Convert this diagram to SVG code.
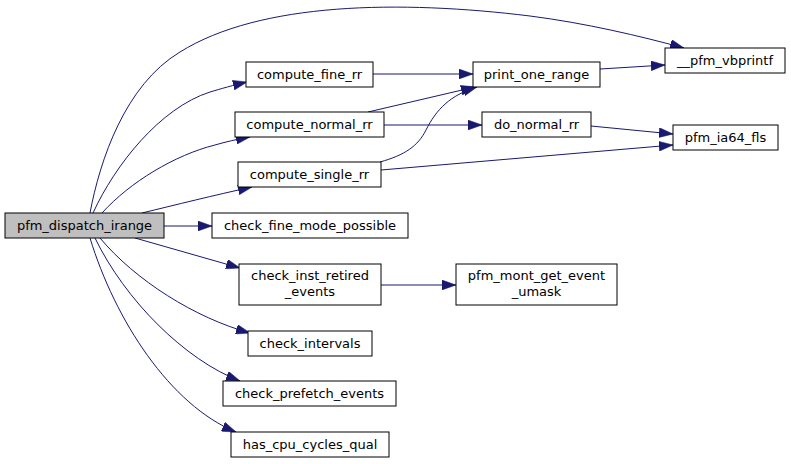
<svg xmlns="http://www.w3.org/2000/svg" width="791" height="464" viewBox="0 0 791 464">
<style>
.n rect{fill:#ffffff;stroke:#000000;stroke-width:1}
.n text{font-family:"DejaVu Sans",sans-serif;font-size:13px;fill:#000000;text-anchor:middle}
.e path{fill:none;stroke:#191970;stroke-width:1}
</style>
<defs>
<marker id="ah" markerUnits="userSpaceOnUse" markerWidth="14" markerHeight="10" viewBox="0 0 13.3 9.3" refX="13.3" refY="4.65" orient="auto">
<path d="M0,0 L13.3,4.65 L0,9.3 z" fill="#191970" stroke="#191970" stroke-width="0.5"/>
</marker>
</defs>
<rect width="791" height="464" fill="#ffffff"/>
<g id="edges" class="e">
<path marker-end="url(#ah)" d="M90,213 C100,160 125,85 180,52 C260,2 400,0 530,16 C585,23 640,36 684,48"/>
<path marker-end="url(#ah)" d="M93,213 C115,165 160,108 210,92 C220,89 234,85 247,82"/>
<path marker-end="url(#ah)" d="M102,213 C130,182 175,155 215,145 C225,142 238,139 250,137"/>
<path marker-end="url(#ah)" d="M142,213 C175,205 215,195 252,187"/>
<path marker-end="url(#ah)" d="M164,226 L212,226"/>
<path marker-end="url(#ah)" d="M135,238 L240,268"/>
<path marker-end="url(#ah)" d="M100,238 C135,280 195,318 250,333"/>
<path marker-end="url(#ah)" d="M95,238 C125,300 185,360 240,381"/>
<path marker-end="url(#ah)" d="M90,238 C115,320 170,405 236,432"/>
<path marker-end="url(#ah)" d="M373,74 L473,74"/>
<path marker-end="url(#ah)" d="M368,112 L475,87"/>
<path marker-end="url(#ah)" d="M384,125 L482,125"/>
<path marker-end="url(#ah)" d="M380,162 C405,155 418,146 426,130 C436,110 450,95 477,87"/>
<path marker-end="url(#ah)" d="M381,170 L673,145"/>
<path marker-end="url(#ah)" d="M600,69 L665,65"/>
<path marker-end="url(#ah)" d="M591,126 L673,134"/>
<path marker-end="url(#ah)" d="M381,285 L456,285"/>
</g>
<g id="pfm_dispatch_irange" class="n"><rect x="5" y="213" width="159" height="25" style="fill:#bfbfbf"/><text x="84.5" y="230">pfm_dispatch_irange</text></g>
<g id="pfm_vbprintf" class="n"><rect x="665" y="48" width="120" height="25"/><text x="725" y="65">__pfm_vbprintf</text></g>
<g id="compute_fine_rr" class="n"><rect x="246" y="62" width="127" height="25"/><text x="309.5" y="79">compute_fine_rr</text></g>
<g id="print_one_range" class="n"><rect x="473" y="62" width="127" height="25"/><text x="536.5" y="79">print_one_range</text></g>
<g id="compute_normal_rr" class="n"><rect x="235" y="112" width="149" height="25"/><text x="309.5" y="129">compute_normal_rr</text></g>
<g id="do_normal_rr" class="n"><rect x="482" y="112" width="109" height="25"/><text x="536.5" y="129">do_normal_rr</text></g>
<g id="pfm_ia64_fls" class="n"><rect x="673" y="125" width="105" height="25"/><text x="725.5" y="142">pfm_ia64_fls</text></g>
<g id="compute_single_rr" class="n"><rect x="238" y="162" width="143" height="25"/><text x="309.5" y="179">compute_single_rr</text></g>
<g id="check_fine_mode_possible" class="n"><rect x="212" y="213" width="196" height="25"/><text x="310" y="230">check_fine_mode_possible</text></g>
<g id="check_inst_retired_events" class="n"><rect x="239" y="264" width="142" height="41"/><text x="310" y="280">check_inst_retired</text><text x="310" y="296">_events</text></g>
<g id="pfm_mont_get_event_umask" class="n"><rect x="456" y="264" width="161" height="41"/><text x="536.5" y="280">pfm_mont_get_event</text><text x="536.5" y="296">_umask</text></g>
<g id="check_intervals" class="n"><rect x="248" y="331" width="124" height="25"/><text x="310" y="348">check_intervals</text></g>
<g id="check_prefetch_events" class="n"><rect x="223" y="381" width="173" height="25"/><text x="309.5" y="398">check_prefetch_events</text></g>
<g id="has_cpu_cycles_qual" class="n"><rect x="231" y="432" width="158" height="25"/><text x="310" y="449">has_cpu_cycles_qual</text></g>
</svg>
